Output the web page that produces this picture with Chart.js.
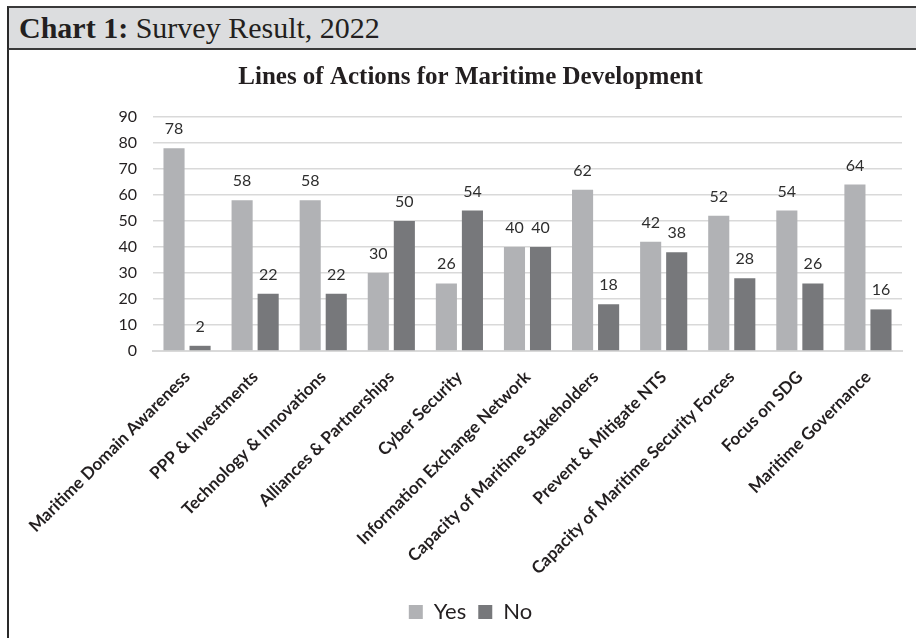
<!DOCTYPE html>
<html>
<head>
<meta charset="utf-8">
<script src="https://cdn.jsdelivr.net/npm/chart.js@4.4.0/dist/chart.umd.min.js"></script>
<style>
  html, body { margin: 0; padding: 0; background: #ffffff; }
  body { width: 916px; height: 638px; position: relative; overflow: hidden; }
  .frame {
    position: absolute; left: 7px; top: 6px; width: 909px; height: 632px;
    border-left: 2px solid #2a2a2a; box-sizing: border-box;
  }
  .head {
    position: absolute; left: 7px; top: 6px; width: 909px; height: 44px;
    background: #dcdddf; border-top: 2px solid #3a3a3a; border-bottom: 2px solid #3a3a3a;
    border-left: 2px solid #2a2a2a; box-sizing: border-box;
    font-family: "Liberation Serif", "DejaVu Serif", serif; font-size: 30px; color: #231f20;
    line-height: 40px; padding-left: 10px; white-space: nowrap;
  }
  .head b { font-weight: bold; }
  .plot { position: absolute; left: 9px; top: 50px; width: 907px; height: 588px; }
</style>
</head>
<body>
<div class="frame"></div>
<div class="head"><b>Chart 1:</b> Survey Result, 2022</div>
<div class="plot"><canvas id="c" width="907" height="588"></canvas></div>
<script>
// Lines of action and the survey answers for each
const categories = [
  "Maritime Domain Awareness",
  "PPP & Investments",
  "Technology & Innovations",
  "Alliances & Partnerships",
  "Cyber Security",
  "Information Exchange Network",
  "Capacity of Maritime Stakeholders",
  "Prevent & Mitigate NTS",
  "Capacity of Maritime Security Forces",
  "Focus on SDG",
  "Maritime Governance"
];
const yesValues = [78, 58, 58, 30, 26, 40, 62, 42, 52, 54, 64];
const noValues  = [2, 22, 22, 50, 54, 40, 18, 38, 28, 26, 16];
const yTicks = [0, 10, 20, 30, 40, 50, 60, 70, 80, 90];

const YES_COLOR = "#b1b2b5";
const NO_COLOR = "#77787b";
const SANS = "Lato, 'Open Sans', sans-serif";
const PAD_LEFT = 30;

// Value printed above each bar
const barValues = {
  id: "barValues",
  afterDatasetsDraw(chart) {
    const ctx = chart.ctx;
    ctx.save();
    ctx.font = "16px " + SANS;
    ctx.fillStyle = "#2e2e2e";
    ctx.textAlign = "center";
    ctx.textBaseline = "alphabetic";
    chart.data.datasets.forEach((ds, i) => {
      chart.getDatasetMeta(i).data.forEach((bar, j) => {
        ctx.fillText(String(ds.data[j]), bar.x, bar.y - 14);
      });
    });
    ctx.restore();
  }
};

new Chart(document.getElementById("c"), {
  type: "bar",
  data: {
    labels: categories,
    datasets: [
      { label: "Yes", data: yesValues, backgroundColor: YES_COLOR },
      { label: "No", data: noValues, backgroundColor: NO_COLOR }
    ]
  },
  options: {
    responsive: false,
    animation: false,
    layout: { padding: { left: PAD_LEFT, right: 14, top: 0, bottom: 5 } },
    datasets: { bar: { categoryPercentage: 0.765, barPercentage: 0.81 } },
    plugins: {
      title: {
        display: true,
        text: "Lines of Actions for Maritime Development",
        color: "#231f20",
        font: { family: "'Liberation Serif', serif", size: 25, weight: "bold" },
        padding: { top: 13, bottom: 24 }
      },
      legend: {
        position: "bottom",
        labels: {
          color: "#231f20",
          font: { family: SANS, size: 22 },
          boxWidth: 14, boxHeight: 14, padding: 12
        }
      },
      tooltip: { enabled: false }
    },
    scales: {
      x: {
        grid: { display: false, drawTicks: false },
        border: { display: true, color: "#d9d9d9", width: 2 },
        ticks: {
          autoSkip: false, maxRotation: 45, minRotation: 45, padding: 16,
          color: "#231f20",
          font: { family: SANS, size: 17, weight: "bold" }
        },
        afterFit(scale) { scale.height = 238; }
      },
      y: {
        min: 0, max: 90,
        afterBuildTicks(scale) { scale.ticks = yTicks.map(v => ({ value: v })); },
        grid: { color: "#d9d9d9", lineWidth: 1.5, drawTicks: false },
        border: { display: false },
        ticks: {
          padding: 16, color: "#231f20",
          font: { family: SANS, size: 16 }
        },
        afterFit(scale) { scale.width = 144 - PAD_LEFT; }
      }
    }
  },
  plugins: [barValues]
});
</script>
</body>
</html>
